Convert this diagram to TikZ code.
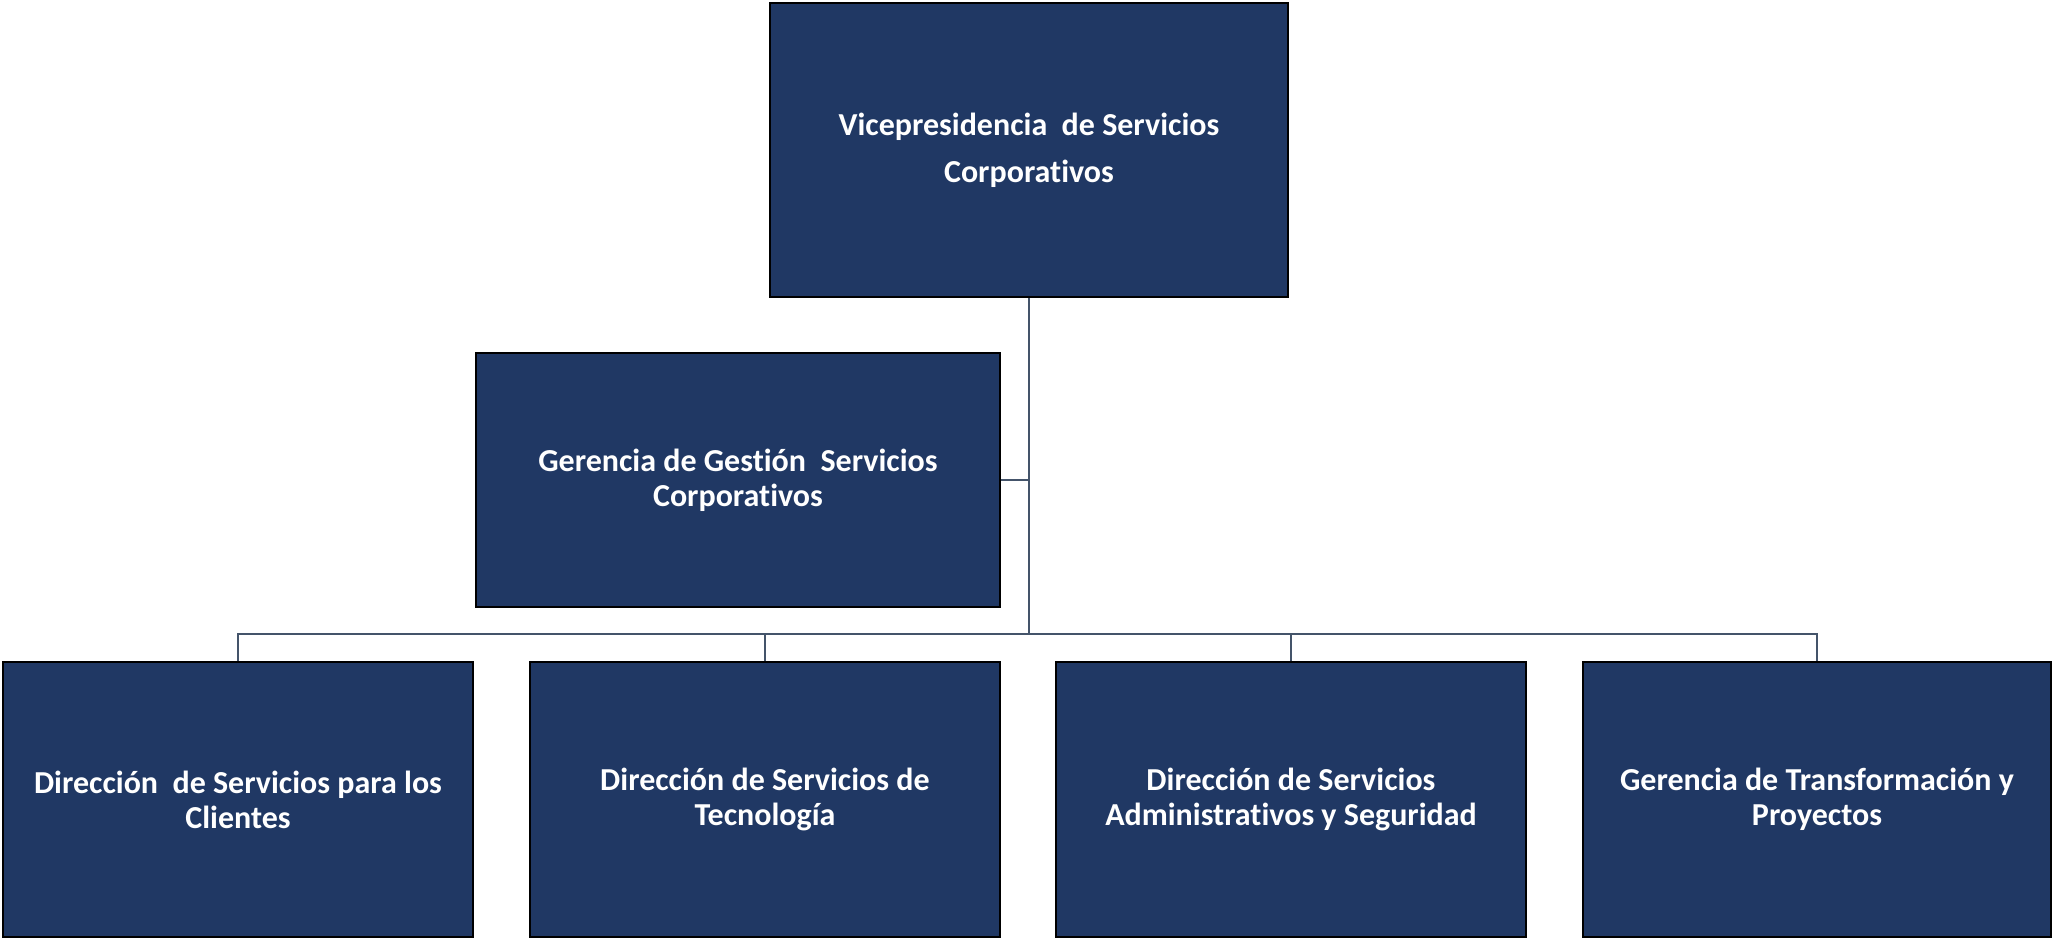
\documentclass[tikz,border=0pt]{standalone}
\usepackage{fontspec}
\setmainfont{Carlito}[Ligatures=NoCommon]
\definecolor{navy}{HTML}{203864}
\definecolor{linec}{HTML}{44546A}
\begin{document}
\begin{tikzpicture}[x=1pt,y=-1pt,
  box/.style={draw=black, line width=1.6pt, fill=navy, text=white, align=center, inner sep=0pt,
    font=\bfseries\fontsize{32}{35}\selectfont},
  conn/.style={draw=linec, line width=2pt}]
\useasboundingbox[fill=white] (0,0) rectangle (2053,940);
\node[box, minimum width=518pt, minimum height=294pt, font=\bfseries\fontsize{32}{47}\selectfont] (top) at (1029,150)
  {Vicepresidencia\ \ de Servicios\\Corporativos};
\node[box, minimum width=524pt, minimum height=254pt] (ger) at (738,480)
  {Gerencia de Gestión\ \ Servicios\\Corporativos};
\node[box, minimum width=470pt, minimum height=275pt] (b1) at (238,799.5)
  {Dirección\ \ de Servicios para los\\Clientes};
\node[box, minimum width=470pt, minimum height=275pt] (b2) at (765,799.5)
  {Dirección de Servicios de\\Tecnología};
\node[box, minimum width=470pt, minimum height=275pt] (b3) at (1291,799.5)
  {Dirección de Servicios\\Administrativos y Seguridad};
\node[box, minimum width=468pt, minimum height=275pt] (b4) at (1817,799.5)
  {Gerencia de Transformación y\\Proyectos};
\coordinate (bus) at (1029,634);
\draw[conn] (top.south) -- (bus);
\draw[conn] (ger.east) -- (ger.east -| bus);
\draw[conn] (b1.north) |- (bus) -| (b4.north);
\draw[conn] (b2.north) -- (b2.north |- bus);
\draw[conn] (b3.north) -- (b3.north |- bus);
\end{tikzpicture}
\end{document}
